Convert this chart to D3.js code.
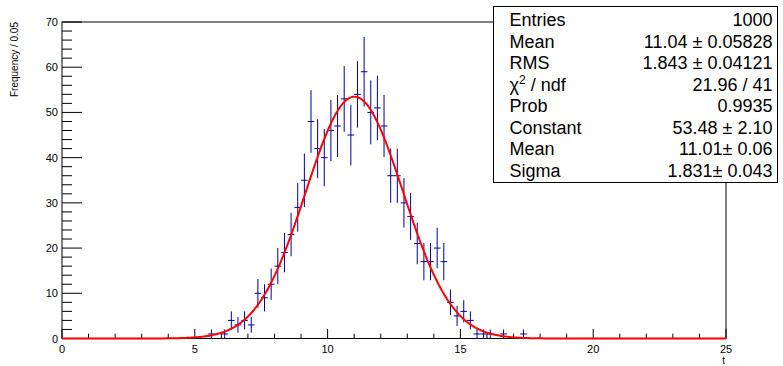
<!DOCTYPE html>
<html>
    <head>
        <meta charset="utf-8">
        <title>histo t</title>
        <script type="text/javascript" src="https://cdn.jsdelivr.net/npm/d3@7/dist/d3.min.js"></script>
        <style>
            body { margin: 0; background: white; }
            text { font-family: "Liberation Sans", Arial, sans-serif; }
        </style>
    </head>
    <body>
		<svg width="783" height="366"></svg>
		<script type="text/javascript">
			var binCenters = [5.625, 6.125, 6.375, 6.625, 6.875, 7.125, 7.375, 7.625, 7.875, 8.125,
			                  8.375, 8.625, 8.875, 9.125, 9.375, 9.625, 9.875, 10.125, 10.375, 10.625,
			                  10.875, 11.125, 11.375, 11.625, 11.875, 12.125, 12.375, 12.625, 12.875, 13.125,
			                  13.375, 13.625, 13.875, 14.125, 14.375, 14.625, 14.875, 15.125, 15.375, 15.625,
			                  15.875, 16.125, 16.625, 17.375];
			var counts = [1, 1, 4, 3, 4, 3, 10, 9, 12, 16,
			              19, 23, 29, 35, 48, 42, 40, 46, 47, 53,
			              45, 54, 59, 50, 51, 47, 36, 36, 30, 27,
			              21, 17, 17, 20, 17, 8, 5, 6, 4, 1,
			              1, 1, 1, 1];
			var binWidth = 0.25;

			// parametres du fit gaussien (boite de stats)
			var fitConstant = 53.48, fitMean = 11.01, fitSigma = 1.831;

			var xTicks = [0, 5, 10, 15, 20, 25];
			var yTicks = [0, 10, 20, 30, 40, 50, 60, 70];

			var statNames = ["Entries", "Mean", "RMS", "chi2", "Prob", "Constant", "Mean", "Sigma"];
			var statValues = ["1000", "11.04 \u00b1 0.05828", "1.843 \u00b1 0.04121", "21.96 / 41",
			                  "0.9935", "53.48 \u00b1 2.10", "11.01\u00b1 0.06", "1.831\u00b1 0.043"];
		</script>

		<script type="text/javascript">
			var svg = d3.select("svg");
			var fLeft = 62, fRight = 726, fTop = 22, fBottom = 338.5;

			var scaleX = d3.scaleLinear().domain([0, 25]).range([fLeft, fRight]);
			var scaleY = d3.scaleLinear().domain([0, 70]).range([fBottom, fTop]);

			// cadre
			svg.append("rect")
				.attr("x", fLeft).attr("y", fTop)
				.attr("width", fRight - fLeft).attr("height", fBottom - fTop)
				.attr("fill", "none").attr("stroke", "black").attr("stroke-width", 1);

			// ticks x (vers l'interieur)
			var axeX = svg.append("g").attr("class", "axeX");
			axeX.selectAll("line.minor")
				.data(d3.range(0, 26, 1))
				.enter().append("line")
					.attr("x1", function (d) { return scaleX(d) })
					.attr("x2", function (d) { return scaleX(d) })
					.attr("y1", fBottom)
					.attr("y2", function (d) { return d % 5 == 0 ? fBottom - 9.5 : fBottom - 4.8 })
					.attr("stroke", "black");
			axeX.selectAll("text")
				.data(xTicks)
				.enter().append("text")
					.attr("x", function (d) { return scaleX(d) })
					.attr("y", fBottom + 14)
					.attr("text-anchor", "middle")
					.attr("font-size", 11)
					.text(function (d) { return d });
			axeX.append("text")
				.attr("x", fRight - 1).attr("y", 364)
				.attr("text-anchor", "end")
				.attr("font-size", 10)
				.text("t");

			// ticks y
			var axeY = svg.append("g").attr("class", "axeY");
			axeY.selectAll("line")
				.data(d3.range(0, 71, 2))
				.enter().append("line")
					.attr("x1", fLeft)
					.attr("x2", function (d) { return d % 10 == 0 ? fLeft + 20 : fLeft + 10 })
					.attr("y1", function (d) { return scaleY(d) })
					.attr("y2", function (d) { return scaleY(d) })
					.attr("stroke", "black");
			axeY.selectAll("text")
				.data(yTicks)
				.enter().append("text")
					.attr("x", fLeft - 4)
					.attr("y", function (d) { return scaleY(d) + 4 })
					.attr("text-anchor", "end")
					.attr("font-size", 11)
					.text(function (d) { return d });
			axeY.append("text")
				.attr("transform", "translate(18," + fTop + ") rotate(-90)")
				.attr("text-anchor", "end")
				.attr("font-size", 10)
				.text("Frequency / 0.05");

			// barres d'erreur
			var points = binCenters.map(function (c, i) { return [c, counts[i]] });
			var g = svg.append("g").attr("stroke", "#000099").attr("stroke-width", 1);
			g.selectAll("line.err")
				.data(points)
				.enter().append("line")
					.attr("x1", function (d) { return scaleX(d[0]) })
					.attr("x2", function (d) { return scaleX(d[0]) })
					.attr("y1", function (d) { return scaleY(d[1] - Math.sqrt(d[1])) })
					.attr("y2", function (d) { return scaleY(d[1] + Math.sqrt(d[1])) });
			g.selectAll("line.bin")
				.data(points)
				.enter().append("line")
					.attr("x1", function (d) { return scaleX(d[0] - binWidth / 2) })
					.attr("x2", function (d) { return scaleX(d[0] + binWidth / 2) })
					.attr("y1", function (d) { return scaleY(d[1]) })
					.attr("y2", function (d) { return scaleY(d[1]) });

			// courbe du fit
			var gauss = d3.range(0, 25.001, 0.05).map(function (x) {
				return [x, fitConstant * Math.exp(-0.5 * Math.pow((x - fitMean) / fitSigma, 2))]
			});
			var fitLine = d3.line()
				.x(function (d) { return scaleX(d[0]) })
				.y(function (d) { return scaleY(d[1]) });
			svg.append("path")
				.datum(gauss)
				.attr("fill", "none")
				.attr("stroke", "red")
				.attr("stroke-width", 2)
				.attr("d", fitLine);

			// boite de stats
			var bx = 493.5, by = 6.5, bw = 284, bh = 176;
			svg.append("rect")
				.attr("x", bx).attr("y", by).attr("width", bw).attr("height", bh)
				.attr("fill", "white").attr("stroke", "black");
			var rows = svg.append("g").attr("font-size", 18);
			statNames.forEach(function (name, i) {
				var y = 26 + 21.5 * i;
				var t = rows.append("text").attr("x", bx + 16).attr("y", y);
				if (name == "chi2") {
					t.text("\u03c7");
					t.append("tspan").attr("dy", -7).attr("font-size", 12).text("2");
					t.append("tspan").attr("dy", 7).text(" / ndf");
				} else {
					t.text(name);
				}
				rows.append("text")
					.attr("x", bx + bw - 5).attr("y", y)
					.attr("text-anchor", "end")
					.text(statValues[i]);
			});
		</script>
    </body>
</html>
